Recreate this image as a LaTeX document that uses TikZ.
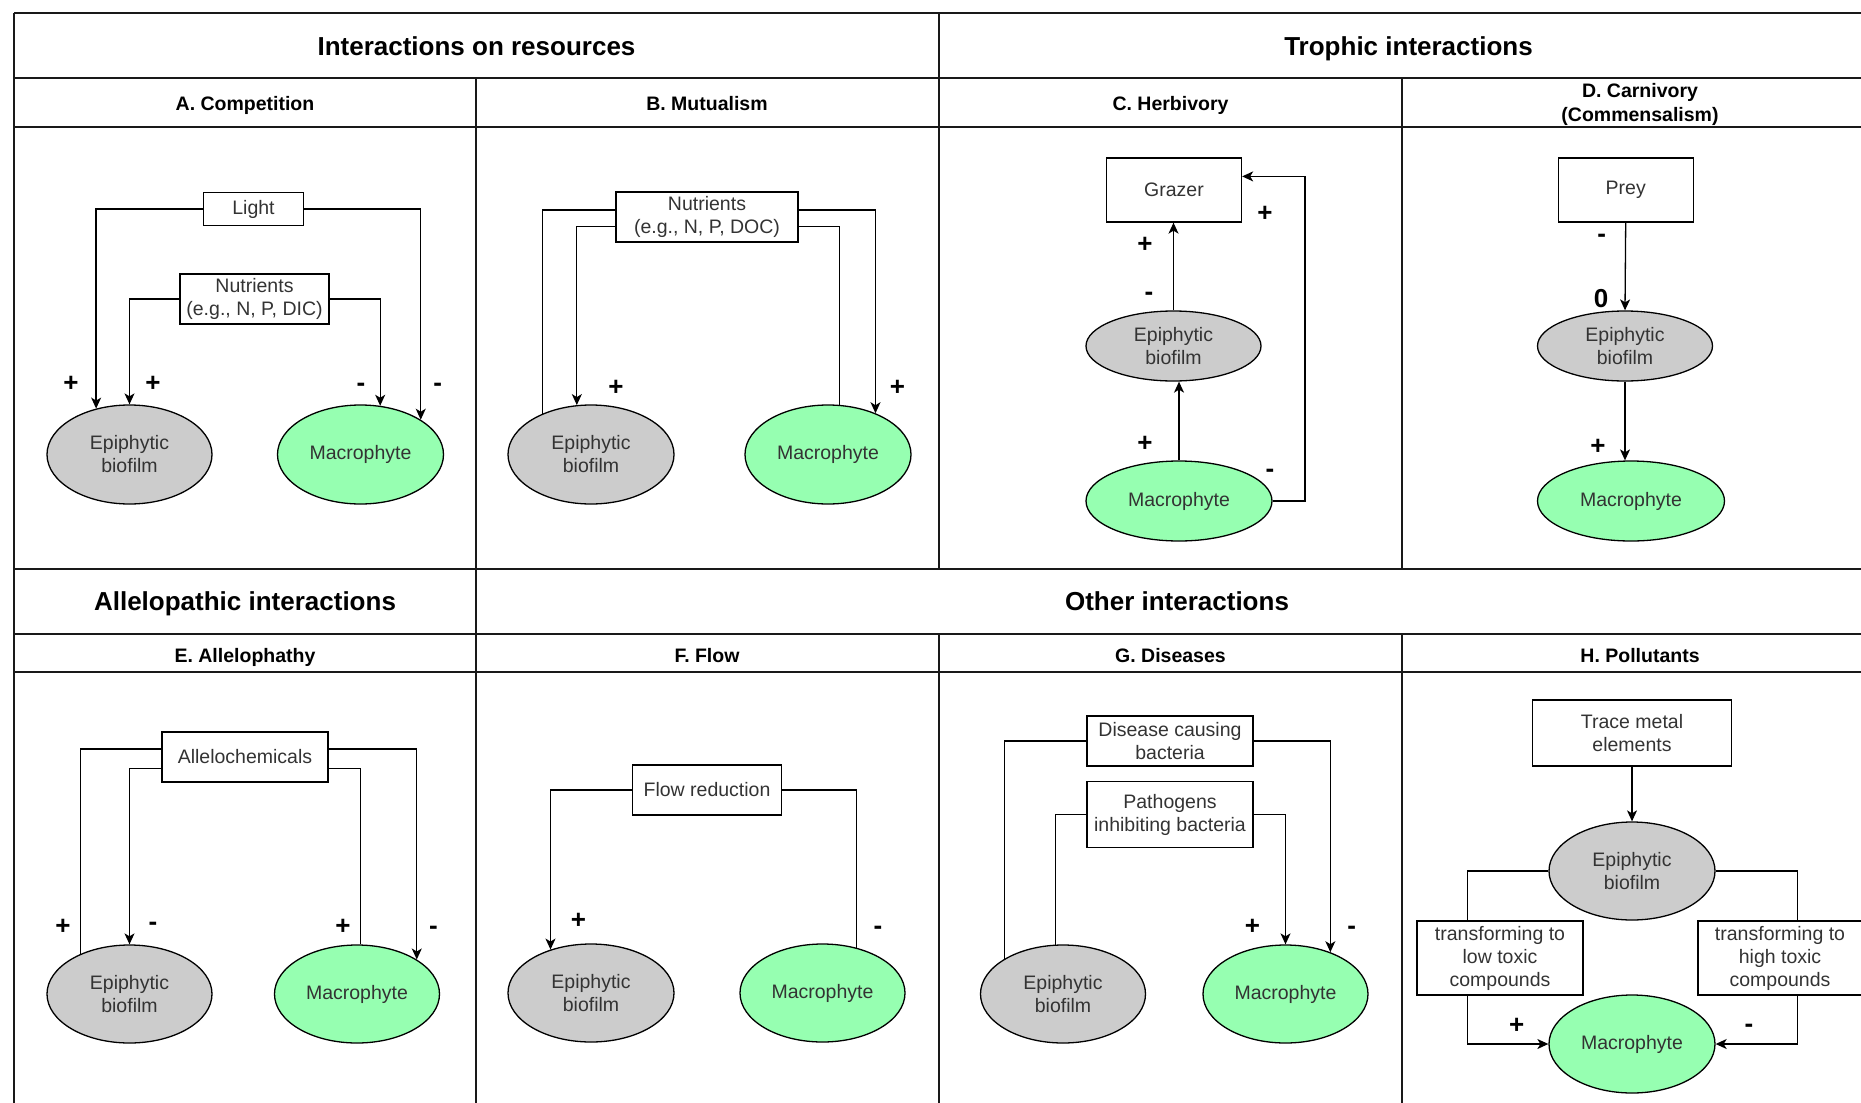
\documentclass[tikz,border=0pt]{standalone}
\usepackage{fontspec}
\setmainfont{Liberation Sans}
\usetikzlibrary{arrows.meta,shapes.geometric}
\definecolor{biocol}{HTML}{CCCCCC}
\definecolor{maccol}{HTML}{96FFB1}
\definecolor{txtcol}{HTML}{333333}
\tikzset{
  gridline/.style={line width=1.8pt, draw=black!90},
  ttl/.style={font=\fontsize{26}{30}\selectfont\bfseries, inner sep=0, anchor=base},
  subttl/.style={font=\fontsize{19.5}{24.4}\selectfont\bfseries, inner sep=0, anchor=base, align=center},
  ell/.style={ellipse, draw, line width=1.3pt, inner sep=0, text=txtcol, align=center,
              font=\fontsize{19.5}{23}\selectfont},
  biofilm/.style={ell, fill=biocol},
  macro/.style={ell, fill=maccol},
  boxn/.style={rectangle, draw, line width=1.3pt, fill=white, text=txtcol, align=center,
               inner sep=0, font=\fontsize{19.5}{23}\selectfont},
  sgn/.style={font=\fontsize{26}{30}\selectfont\bfseries, inner sep=0},
  con/.style={line width=1.3pt},
  arr/.style={con, -{Stealth[length=11pt,width=10pt,inset=3pt]}},
}
\begin{document}
\begin{tikzpicture}[x=1pt,y=-1pt]
\useasboundingbox (0,0) rectangle (1861,1103);
\clip (0,0) rectangle (1861,1103);
\fill[white] (0,0) rectangle (1861,1103);

% ---------- grid ----------
\draw[gridline] (14,13) -- (1878,13);
\draw[gridline] (14,78) -- (1878,78);
\draw[gridline] (14,127) -- (1878,127);
\draw[gridline] (14,569) -- (1878,569);
\draw[gridline] (14,634) -- (1878,634);
\draw[gridline] (14,672) -- (1878,672);
\draw[gridline] (14,13) -- (14,1120);
\draw[gridline] (476,78) -- (476,1120);
\draw[gridline] (939,13) -- (939,569);
\draw[gridline] (939,634) -- (939,1120);
\draw[gridline] (1402,78) -- (1402,569);
\draw[gridline] (1402,634) -- (1402,1120);
\draw[gridline] (1878,13) -- (1878,1120);

% ---------- headers ----------
\node[ttl] (t1) at (476.5,55) {Interactions on resources};
\node[ttl] (t2) at (1408.5,55) {Trophic interactions};
\node[ttl] (t3) at (245,610.5) {Allelopathic interactions};
\node[ttl] (t4) at (1177,610.5) {Other interactions};

\node[subttl] (hA) at (245,110) {A. Competition};
\node[subttl] (hB) at (707,110) {B. Mutualism};
\node[subttl] (hC) at (1170.5,110) {C. Herbivory};
\node[subttl] (hD) at (1640,121.7) {D. Carnivory\\(Commensalism)};
\node[subttl] (hE) at (245,662) {E. Allelophathy};
\node[subttl] (hF) at (707,662) {F. Flow};
\node[subttl] (hG) at (1170.5,662) {G. Diseases};
\node[subttl] (hH) at (1640,662) {H. Pollutants};

% ---------- A. Competition ----------
\node[biofilm, minimum width=165pt, minimum height=99pt] (EA) at (129.5,454.5) {Epiphytic\\biofilm};
\node[macro, minimum width=166pt, minimum height=99pt] (MA) at (360.5,454.5) {Macrophyte};
\node[boxn, minimum width=100pt, minimum height=33pt] (LightA) at (253.5,209) {Light};
\node[boxn, minimum width=149pt, minimum height=50pt] (NutA) at (254.5,299) {Nutrients\\(e.g., N, P, DIC)};
\draw[arr] (LightA.west) -| (EA.126.5);
\draw[arr] (LightA.east) -| (MA.30.1);
\draw[arr] (NutA.west) -| (EA.north);
\draw[arr] (NutA.east) -| (MA.68.5);
\node[sgn] (sA1) at (71,384) {+};
\node[sgn] (sA2) at (153,384) {+};
\node[sgn] (sA3) at (361,387) {-};
\node[sgn] (sA4) at (437.6,387) {-};

% ---------- B. Mutualism ----------
\node[biofilm, minimum width=166pt, minimum height=99pt] (EB) at (591,454.5) {Epiphytic\\biofilm};
\node[macro, minimum width=166pt, minimum height=99pt] (MB) at (828,454.5) {Macrophyte};
\node[boxn, minimum width=182pt, minimum height=50pt] (NutB) at (707,217) {Nutrients\\(e.g., N, P, DOC)};
\draw[con] (EB.140.3) |- ([yshift=7pt]NutB.west);
\draw[arr] ([yshift=-9.7pt]NutB.west) -| (EB.106);
\draw[arr] ([yshift=7pt]NutB.east) -| (MB.41);
\draw[con] (MB.77.4) |- ([yshift=-9.7pt]NutB.east);
\node[sgn] (sB1) at (616,388) {+};
\node[sgn] (sB2) at (897.5,388) {+};

% ---------- C. Herbivory ----------
\node[boxn, minimum width=135pt, minimum height=64pt] (Grazer) at (1174,190) {Grazer};
\node[biofilm, minimum width=175pt, minimum height=70pt] (EC) at (1173.5,346) {Epiphytic\\biofilm};
\node[macro, minimum width=186pt, minimum height=80pt] (MC) at (1179,501) {Macrophyte};
\coordinate (cC) at (1305,176.4);
\draw[arr] (EC.north) -- (EC.north |- Grazer.south);
\draw[arr] (MC.north) -- (MC.north |- EC.south);
\draw[arr] (MC.east) -| (cC) -- ([yshift=13.6pt]Grazer.east);
\node[sgn] (sC1) at (1265,214) {+};
\node[sgn] (sC2) at (1145,245) {+};
\node[sgn] (sC3) at (1149,296) {-};
\node[sgn] (sC4) at (1145,444) {+};
\node[sgn] (sC5) at (1270,473) {-};

% ---------- D. Carnivory ----------
\node[boxn, minimum width=135pt, minimum height=64pt] (Prey) at (1625.7,190) {Prey};
\node[biofilm, minimum width=175pt, minimum height=70pt] (ED) at (1625,346) {Epiphytic\\biofilm};
\node[macro, minimum width=187pt, minimum height=80pt] (MD) at (1631,501) {Macrophyte};
\draw[arr] (Prey.south) -- (ED.north);
\draw[arr] (ED.south) -- (ED.south |- MD.north);
\node[sgn] (sD1) at (1601.7,238.3) {-};
\node[sgn] (sD2) at (1601,299) {0};
\node[sgn] (sD3) at (1598,446.5) {+};

% ---------- E. Allelophathy ----------
\node[biofilm, minimum width=165pt, minimum height=98pt] (EE) at (129.5,994) {Epiphytic\\biofilm};
\node[macro, minimum width=165pt, minimum height=98pt] (ME) at (357,994) {Macrophyte};
\node[boxn, minimum width=166pt, minimum height=50pt] (Allelo) at (245,757) {Allelochemicals};
\draw[con] (EE.141.9) |- ([yshift=8pt]Allelo.west);
\draw[arr] ([yshift=-11.8pt]Allelo.west) -| (EE.north);
\draw[arr] ([yshift=8pt]Allelo.east) -| (ME.30.5);
\draw[con] (ME.86.5) |- ([yshift=-11.8pt]Allelo.east);
\node[sgn] (sE1) at (63,927) {+};
\node[sgn] (sE2) at (153,926.4) {-};
\node[sgn] (sE3) at (343,927) {+};
\node[sgn] (sE4) at (433.5,930.5) {-};

% ---------- F. Flow ----------
\node[biofilm, minimum width=166pt, minimum height=98pt] (EF) at (591,993) {Epiphytic\\biofilm};
\node[macro, minimum width=165pt, minimum height=98pt] (MF) at (822.5,993) {Macrophyte};
\node[boxn, minimum width=149pt, minimum height=50pt] (Flow) at (707,790) {Flow reduction};
\draw[con] (MF.53.7) |- (Flow.east);
\draw[arr] (Flow.west) -| (EF.133.6);
\node[sgn] (sF1) at (578.5,921) {+};
\node[sgn] (sF2) at (878,930.5) {-};

% ---------- G. Diseases ----------
\node[biofilm, minimum width=165pt, minimum height=98pt] (EG) at (1063,994) {Epiphytic\\biofilm};
\node[macro, minimum width=165pt, minimum height=98pt] (MG) at (1285.5,994) {Macrophyte};
\node[boxn, minimum width=166pt, minimum height=50pt] (Dis) at (1170,741) {Disease causing\\bacteria};
\node[boxn, minimum width=166pt, minimum height=66pt] (Path) at (1170,814.5) {Pathogens\\inhibiting bacteria};
\draw[con] (EG.149.9) |- (Dis.west);
\draw[arr] (Dis.east) -| (MG.43.2);
\draw[con] (EG.99.7) |- (Path.west);
\draw[arr] (Path.east) -| (MG.north);
\node[sgn] (sG1) at (1252.4,927) {+};
\node[sgn] (sG2) at (1351.6,930.5) {-};

% ---------- H. Pollutants ----------
\node[boxn, minimum width=199pt, minimum height=66pt] (Trace) at (1632,733) {Trace metal\\elements};
\node[biofilm, minimum width=166pt, minimum height=98pt] (EH) at (1632,871) {Epiphytic\\biofilm};
\node[macro, minimum width=166pt, minimum height=98pt] (MH) at (1632,1044) {Macrophyte};
\node[boxn, minimum width=166pt, minimum height=74pt] (Low) at (1500,958) {transforming to\\low toxic\\compounds};
\node[boxn, minimum width=164pt, minimum height=74pt] (High) at (1780,958) {transforming to\\high toxic\\compounds};
\draw[arr] (Trace.south) -- (EH.north);
\draw[con] (EH.west) -| ([xshift=-32.5pt]Low.north);
\draw[arr] ([xshift=-32.5pt]Low.south) |- (MH.west);
\draw[con] (EH.east) -| ([xshift=17.5pt]High.north);
\draw[arr] ([xshift=17.5pt]High.south) |- (MH.east);
\node[sgn] (sH1) at (1516.7,1026) {+};
\node[sgn] (sH2) at (1749,1028.3) {-};
\end{tikzpicture}
\end{document}
